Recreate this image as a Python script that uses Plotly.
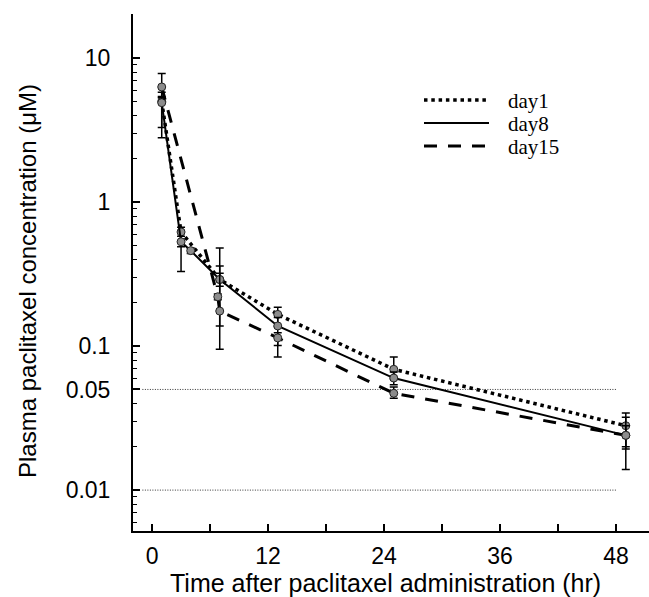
import plotly.graph_objects as go

# ---------------- data ----------------
t_day1 = [1, 3, 7, 13, 25, 49]
c_day1 = [5.0, 0.62, 0.29, 0.166, 0.069, 0.028]
e_day1_plus = [0.8, 0.05, 0.19, 0.02, 0.015, 0.0063]
e_day1_minus = [2.2, 0.13, 0.152, 0.03, 0.01, 0.0087]

t_day8 = [1, 3, 4, 7, 13, 25, 49]
c_day8 = [4.9, 0.53, 0.46, 0.29, 0.138, 0.060, 0.024]
e_day8_plus = [0.5, 0.05, 0.02, 0.03, 0.02, 0.006, 0.008]
e_day8_minus = [1.6, 0.2, 0.02, 0.03, 0.037, 0.006, 0.0101]

t_day15 = [1, 6.8, 7, 13, 25, 49]
c_day15 = [6.3, 0.22, 0.175, 0.114, 0.047, 0.024]
e_day15_plus = [1.5, 0.01, 0.185, 0.01, 0.005, 0.004]
e_day15_minus = [1.0, 0.01, 0.08, 0.03, 0.0036, 0.004]

ref_levels = [0.05, 0.01]
ref_span = [-1, 48]

x_tickvals = [0, 6, 12, 18, 24, 30, 36, 42, 48]
x_ticktext = ["0", "", "12", "", "24", "", "36", "", "48"]
y_tickvals = [0.01, 0.05, 0.1, 1, 10]
y_ticktext = ["0.01", "0.05", "0.1", "1", "10"]

series_names = ["day1", "day8", "day15"]

# ---------------- layout constants ----------------
W, H = 649, 597
ML, MR, MT, MB = 133, 0, 14, 66
PW, PH = W - ML - MR, H - MT - MB


def px_x(px):
    return (px - ML) / PW


def px_y(py):
    return (H - MB - py) / PH


styles = {
    "day1": dict(color="black", width=3.5, dash="3.5px,3.8px"),
    "day8": dict(color="black", width=2),
    "day15": dict(color="black", width=3, dash="13px,11px"),
}

marker_style = dict(symbol="circle", size=8, color="#8c8c8c",
                    line=dict(color="#222222", width=1))

fig = go.Figure()

for lvl in ref_levels:
    fig.add_trace(go.Scatter(
        x=ref_span, y=[lvl, lvl], mode="lines",
        line=dict(color="#333333", width=1, dash="1px,1.5px"),
        showlegend=False, hoverinfo="skip"))

data = [
    ("day1", t_day1, c_day1, e_day1_plus, e_day1_minus),
    ("day8", t_day8, c_day8, e_day8_plus, e_day8_minus),
    ("day15", t_day15, c_day15, e_day15_plus, e_day15_minus),
]

for name, t, c, ep, em in data:
    fig.add_trace(go.Scatter(
        x=t, y=c, name=name, mode="lines+markers",
        line=styles[name], marker=marker_style,
        error_y=dict(type="data", symmetric=False, array=ep, arrayminus=em,
                     color="black", thickness=1.5, width=4),
        showlegend=False))

# minor ticks on log axis
minor_vals = []
for dec in [0.001, 0.01, 0.1, 1, 10]:
    for m in range(2, 10):
        v = dec * m
        if 0.0052 < v < 20 and abs(v - 0.05) > 1e-9:
            minor_vals.append(v)

fig.update_layout(
    width=W, height=H,
    margin=dict(l=ML, r=MR, t=MT, b=MB, pad=0),
    paper_bgcolor="white", plot_bgcolor="white",
    font=dict(family="Liberation Sans, Arial, sans-serif", size=23, color="black"),
    showlegend=False,
    xaxis=dict(
        range=[-1.97, 51.4], showgrid=False, zeroline=False,
        showline=True, linecolor="black", linewidth=2,
        tickmode="array", tickvals=x_tickvals, ticktext=x_ticktext,
        ticks="inside", ticklen=7, tickwidth=1.5, tickcolor="black",
        tickfont=dict(size=23), ticklabelstandoff=3,
    ),
    yaxis=dict(
        type="log", range=[-2.284, 1.306], showgrid=False, zeroline=False,
        showline=True, linecolor="black", linewidth=2,
        tickmode="array", tickvals=y_tickvals, ticktext=y_ticktext,
        ticks="inside", ticklen=7, tickwidth=1.5, tickcolor="black",
        tickfont=dict(size=23), ticklabelstandoff=16,
        minor=dict(tickvals=minor_vals, ticks="inside", ticklen=4,
                   tickwidth=1, tickcolor="black", showgrid=False),
    ),
)

# axis titles
fig.add_annotation(
    text="Plasma paclitaxel concentration (μM)", textangle=-90,
    xref="paper", yref="paper", x=px_x(27), y=px_y(281),
    xanchor="center", yanchor="middle", showarrow=False,
    font=dict(size=24))
fig.add_annotation(
    text="Time after paclitaxel administration (hr)",
    xref="paper", yref="paper", x=px_x(385), y=px_y(583),
    xanchor="center", yanchor="middle", showarrow=False,
    font=dict(size=25))

# legend (manual, to match the long line samples)
legend_rows = [100, 123, 146]
for name, row in zip(series_names, legend_rows):
    st = dict(styles[name])
    fig.add_shape(type="line", xref="paper", yref="paper",
                  x0=px_x(424), x1=px_x(489), y0=px_y(row), y1=px_y(row),
                  line=st)
    fig.add_annotation(text=name, xref="paper", yref="paper",
                       x=px_x(506), y=px_y(row + 1), xanchor="left", yanchor="middle",
                       showarrow=False,
                       font=dict(family="Liberation Serif, Times New Roman, serif",
                                 size=21, color="black"))

fig.write_html("out.html")
